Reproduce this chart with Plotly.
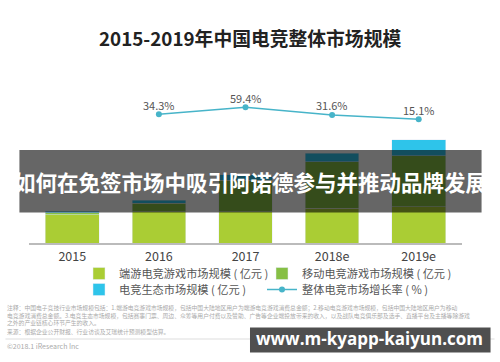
import plotly.graph_objects as go

# ---- data ----
years = ["2015", "2016", "2017", "2018e", "2019e"]
pc_esports = [270, 300, 300, 330, 347]        # 端游电竞游戏市场规模（亿元）
mobile_esports = [20, 80, 300, 445, 487]      # 移动电竞游戏市场规模（亿元）
ecosystem = [14, 28, 50, 80, 150]             # 电竞生态市场规模（亿元）
growth_years = ["2016", "2017", "2018e", "2019e"]
growth_rate = [34.3, 59.4, 31.6, 15.1]        # 整体电竞市场增长率（%）
growth_labels = ["34.3%", "59.4%", "31.6%", "15.1%"]

title_text = "2015-2019年中国电竞整体市场规模"
banner_text = "如何在免签市场中吸引阿诺德参与并推动品牌发展"
url_text = "www.m-kyapp-kaiyun.com"
notes = [
    "注释：中国电子竞技行业市场规模包括：1.端游电竞游戏市场规模，包括中国大陆地区用户为端游电竞游戏消费总金额；2.移动电竞游戏市场规模，包括中国大陆地区用户为移动",
    "电竞游戏消费总金额。3.电竞生态市场规模，包括赛事门票、周边、众筹等用户付费以及赞助、广告等企业端投放带来的收入，以及战队电竞俱乐部及选手、直播平台及主播等除游戏",
    "之外的产业链核心环节产生的收入。",
]
source_text = "来源：根据企业公开财报、行业访谈及艾瑞统计预测模型估算。"
copyright_text = "©2018.1 iResearch Inc"

# ---- layout geometry (pixels) ----
W, H = 500, 362
L, R = 28.6, 462.4
T, B = 100, 243
PW, PH = R - L, B - T

def px(x):
    return (x - L) / PW

def py(y):
    return (B - y) / PH

FONT = "Noto Sans CJK SC"
C_PC = "#aacd34"
C_MOB = "#86bf45"
C_ECO = "#2ec4ea"
C_LINE = "#47b4c9"

fig = go.Figure()
fig.add_trace(go.Bar(x=years, y=pc_esports, name="端游电竞游戏市场规模 ( 亿元 )",
                     marker_color=C_PC, legend="legend"))
fig.add_trace(go.Bar(x=years, y=mobile_esports, name="移动电竞游戏市场规模 ( 亿元 )",
                     marker_color=C_MOB, legend="legend2"))
fig.add_trace(go.Bar(x=years, y=ecosystem, name="电竞生态市场规模 ( 亿元 )",
                     marker_color=C_ECO, legend="legend3"))
fig.add_trace(go.Scatter(x=growth_years, y=growth_rate, name="整体电竞市场增长率 ( % )",
                         mode="lines+markers", cliponaxis=False,
                         line=dict(color=C_LINE, width=1.5),
                         marker=dict(color=C_LINE, size=6),
                         yaxis="y2", legend="legend4"))

legend_common = dict(orientation="h", xref="container", yref="container",
                     xanchor="left", yanchor="middle", traceorder="normal",
                     font=dict(size=11.2, color="#555555", family=FONT),
                     bgcolor="rgba(0,0,0,0)", itemclick=False, borderwidth=0)

col1_x, col2_x = 79, 262
row1_y, row2_y = 273.5, 289.5

fig.update_layout(
    width=W, height=H,
    margin=dict(l=L, r=W - R, t=T, b=H - B, pad=0, autoexpand=False),
    paper_bgcolor="white", plot_bgcolor="white",
    barmode="stack", bargap=0.38,
    font=dict(family=FONT),
    xaxis=dict(type="category", categoryorder="array", categoryarray=years,
               range=[-0.5, len(years) - 0.5], ticklabelstandoff=1,
               showline=True, linecolor="#bbbbbb", linewidth=1.5, showgrid=False,
               ticks="", tickfont=dict(size=12.5, color="#444444", family=FONT),
               fixedrange=True),
    yaxis=dict(range=[0, 1366], visible=False, showgrid=False, fixedrange=True),
    yaxis2=dict(range=[-443, 86.7], overlaying="y", visible=False, showgrid=False,
                fixedrange=True),
    legend=dict(x=col1_x / W, y=1 - row1_y / H, **legend_common),
    legend2=dict(x=col2_x / W, y=1 - row1_y / H, **legend_common),
    legend3=dict(x=col1_x / W, y=1 - row2_y / H, **legend_common),
    legend4=dict(x=col2_x / W, y=1 - row2_y / H, **legend_common),
    showlegend=True,
)

annotations = []
for xv, yv, lab in zip(growth_years, growth_rate, growth_labels):
    annotations.append(dict(text=lab, x=years.index(xv), y=yv, xref="x", yref="y2",
                            showarrow=False, xanchor="center", yanchor="middle", yshift=9.5,
                            font=dict(size=11, color="#555555", family=FONT)))
annotations.append(dict(text=f"<b>{title_text}</b>", x=px(250.5), y=py(37.5),
                        xref="paper", yref="paper",
                        showarrow=False, font=dict(size=18.8, color="#222222", family=FONT),
                        xanchor="center", yanchor="middle"))
annotations.append(dict(text="<br>".join(notes), x=px(5), y=py(315), xref="paper", yref="paper",
                        showarrow=False, xanchor="left", yanchor="middle", align="left",
                        font=dict(size=5.8, color="#aaaaaa", family=FONT)))
annotations.append(dict(text=source_text, x=px(5), y=py(331), xref="paper", yref="paper",
                        showarrow=False, xanchor="left", yanchor="middle",
                        font=dict(size=5.8, color="#aaaaaa", family=FONT)))
annotations.append(dict(text=copyright_text, x=px(5), y=py(346), xref="paper", yref="paper",
                        showarrow=False, xanchor="left", yanchor="middle",
                        font=dict(size=7, color="#aaaaaa", family=FONT)))
# overlay banners text
annotations.append(dict(text=f"<b>{banner_text}</b>", x=px(250.5), y=py(181.5),
                        xref="paper", yref="paper", showarrow=False,
                        xanchor="center", yanchor="middle",
                        font=dict(size=21.5, color="white", family=FONT)))
annotations.append(dict(text=f"<b>{url_text}</b>", x=px(370), y=py(338),
                        xref="paper", yref="paper", showarrow=False,
                        xanchor="center", yanchor="middle",
                        font=dict(size=17, color="white", family="Open Sans")))

shapes = [
    dict(type="line", xref="paper", yref="paper", x0=px(5), x1=px(495), y0=py(339), y1=py(339),
         line=dict(color="#dddddd", width=1), layer="above"),
    dict(type="rect", xref="paper", yref="paper", x0=px(19), x1=px(482), y0=py(150), y1=py(212.5),
         fillcolor="rgba(0,0,0,0.6)", line=dict(width=0), layer="above"),
    dict(type="rect", xref="paper", yref="paper", x0=px(250), x1=px(491), y0=py(327.5), y1=py(352.5),
         fillcolor="rgba(70,70,70,0.95)", line=dict(width=0), layer="above"),
]
fig.update_layout(annotations=annotations, shapes=shapes)

fig.write_html("out.html", config={"displayModeBar": False},
               post_script="document.body.style.margin='0px';document.body.style.padding='0px';")
